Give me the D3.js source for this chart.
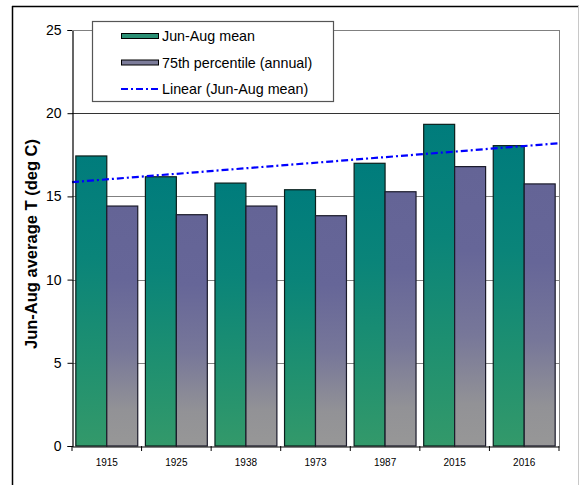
<!DOCTYPE html>
<html>
<head>
<meta charset="utf-8">
<script src="https://cdn.jsdelivr.net/npm/d3@7/dist/d3.min.js"></script>
<style>
  html, body { margin: 0; padding: 0; background: #fff; }
  svg { display: block; font-family: "Liberation Sans", Arial, sans-serif; }
</style>
</head>
<body>
<svg id="chart" width="579" height="485"></svg>
<script>
// Summer temperature by year
const years = ["1915", "1925", "1938", "1973", "1987", "2015", "2016"];
const junAugMean = [17.43, 16.18, 15.8, 15.4, 16.99, 19.33, 18.05];
const pct75Annual = [14.42, 13.9, 14.42, 13.84, 15.28, 16.79, 15.75];
const yTicks = [0, 5, 10, 15, 20, 25];
const seriesNames = ["Jun-Aug mean", "75th percentile (annual)", "Linear (Jun-Aug mean)"];

const svg = d3.select("#chart");
const plot = { left: 72, right: 559, top: 30, bottom: 446 };

// Outer chart frame
svg.append("line").attr("x1", 12.5).attr("x2", 12.5).attr("y1", 6).attr("y2", 485)
  .attr("stroke", "#000").attr("stroke-width", 1.5);
svg.append("line").attr("x1", 12).attr("x2", 579).attr("y1", 6.5).attr("y2", 6.5)
  .attr("stroke", "#000").attr("stroke-width", 1.5);
svg.append("line").attr("x1", 578.5).attr("x2", 578.5).attr("y1", 6).attr("y2", 485)
  .attr("stroke", "#c8c8c8").attr("stroke-width", 1);

const x = d3.scaleBand().domain(years).range([plot.left, plot.right]).paddingInner(0.11).paddingOuter(0.055);
const xSub = d3.scaleBand().domain([0, 1]).range([0, x.bandwidth()]);
const y = d3.scaleLinear().domain([0, 25]).range([plot.bottom, plot.top]);

// Gradients
const defs = svg.append("defs");
const gGreen = defs.append("linearGradient").attr("id", "gGreen").attr("x1", 0).attr("y1", 0).attr("x2", 0).attr("y2", 1);
[[0, "#007c7c"], [0.35, "#0a8479"], [0.7, "#1f9070"], [1, "#33996a"]].forEach(([o, c]) =>
  gGreen.append("stop").attr("offset", o).attr("stop-color", c));
const gPurple = defs.append("linearGradient").attr("id", "gPurple").attr("x1", 0).attr("y1", 0).attr("x2", 0).attr("y2", 1);
[[0, "#646496"], [0.3, "#666698"], [0.6, "#777799"], [0.85, "#929296"], [1, "#979797"]].forEach(([o, c]) =>
  gPurple.append("stop").attr("offset", o).attr("stop-color", c));

// Gridlines
svg.append("g").selectAll("line").data(yTicks.filter(t => t > 0)).join("line")
  .attr("x1", plot.left).attr("x2", plot.right)
  .attr("y1", d => Math.round(y(d)) + 0.5).attr("y2", d => Math.round(y(d)) + 0.5)
  .attr("stroke", d => d === 20 ? "#333" : "#808080").attr("stroke-width", 1);
svg.append("line").attr("x1", plot.right + 0.5).attr("x2", plot.right + 0.5)
  .attr("y1", plot.top).attr("y2", plot.bottom).attr("stroke", "#808080");

// Bars
const groups = svg.append("g").selectAll("g").data(years).join("g")
  .attr("transform", d => `translate(${x(d)},0)`);
groups.append("rect")
  .attr("x", 0).attr("width", xSub.bandwidth())
  .attr("y", (d, i) => y(junAugMean[i])).attr("height", (d, i) => y(0) - y(junAugMean[i]))
  .attr("fill", "url(#gGreen)").attr("stroke", "#0a1f1c").attr("stroke-width", 1.2);
groups.append("rect")
  .attr("x", xSub(1)).attr("width", xSub.bandwidth())
  .attr("y", (d, i) => y(pct75Annual[i])).attr("height", (d, i) => y(0) - y(pct75Annual[i]))
  .attr("fill", "url(#gPurple)").attr("stroke", "#1a1a2a").attr("stroke-width", 1.2);

// Linear trend of Jun-Aug mean (least squares over category index)
const n = junAugMean.length;
const xs = d3.range(1, n + 1);
const mx = d3.mean(xs), my = d3.mean(junAugMean);
const slope = d3.sum(xs, (v, i) => (v - mx) * (junAugMean[i] - my)) / d3.sum(xs, v => (v - mx) ** 2);
const intercept = my - slope * mx;
const xIdx = d3.scaleLinear().domain([0.5, n + 0.5]).range([plot.left, plot.right]);
svg.append("path")
  .datum([0.5, n + 0.5])
  .attr("d", d3.line().x(d => xIdx(d)).y(d => y(intercept + slope * d)))
  .attr("fill", "none").attr("stroke", "#0000ff").attr("stroke-width", 2.2)
  .attr("stroke-dasharray", "7,3,2,3");

// Axes
const yAxis = d3.axisLeft(y).tickValues(yTicks).tickSize(5).tickPadding(6);
svg.append("g").attr("transform", `translate(${plot.left + 0.5},0)`).call(yAxis)
  .call(g => g.select(".domain").attr("stroke", "#000").attr("stroke-width", 1.2))
  .call(g => g.selectAll(".tick line").attr("stroke", "#000"))
  .call(g => g.selectAll("text").attr("font-size", 14).attr("fill", "#000")
    .attr("font-family", "Liberation Sans, Arial, sans-serif"));
// Top plot edge at 25
svg.append("line").attr("x1", plot.left).attr("x2", plot.right)
  .attr("y1", y(25) + 0.5).attr("y2", y(25) + 0.5).attr("stroke", "#808080");

const xAxis = d3.axisBottom(x).tickSize(0).tickPadding(12);
svg.append("g").attr("transform", `translate(0,${plot.bottom + 0.5})`).call(xAxis)
  .call(g => g.select(".domain").attr("stroke", "#000").attr("stroke-width", 1.2))
  .call(g => g.selectAll("text").attr("font-size", 10).attr("fill", "#000")
    .attr("font-family", "Liberation Sans, Arial, sans-serif"));
// Category boundary ticks
svg.append("g").selectAll("line").data(d3.range(n + 1)).join("line")
  .attr("x1", i => xIdx(i + 0.5)).attr("x2", i => xIdx(i + 0.5))
  .attr("y1", plot.bottom).attr("y2", plot.bottom + 5).attr("stroke", "#000");

// Y axis title
svg.append("text")
  .attr("transform", `translate(37,244) rotate(-90)`)
  .attr("text-anchor", "middle").attr("font-size", 16.5).attr("font-weight", "bold")
  .text("Jun-Aug average T (deg C)");

// Legend
const lg = svg.append("g");
lg.append("rect").attr("x", 92.5).attr("y", 21.5).attr("width", 241).attr("height", 80)
  .attr("fill", "#fff").attr("stroke", "#555").attr("stroke-width", 1.2);
const rowsY = [36, 62.5, 89];
lg.append("rect").attr("x", 121.5).attr("y", rowsY[0] - 2.5).attr("width", 37).attr("height", 5)
  .attr("fill", "#2a8f74").attr("stroke", "#000");
lg.append("rect").attr("x", 121.5).attr("y", rowsY[1] - 2.5).attr("width", 37).attr("height", 5)
  .attr("fill", "#7c7c9a").attr("stroke", "#000");
lg.append("line").attr("x1", 121).attr("x2", 159).attr("y1", rowsY[2]).attr("y2", rowsY[2])
  .attr("stroke", "#0000ff").attr("stroke-width", 2.2).attr("stroke-dasharray", "7,3,2,3");
lg.selectAll("text.item").data(seriesNames).join("text").attr("class", "item")
  .attr("x", 162).attr("y", (d, i) => rowsY[i]).attr("dy", "0.36em")
  .attr("font-size", 14.3).text(d => d);
</script>
</body>
</html>
